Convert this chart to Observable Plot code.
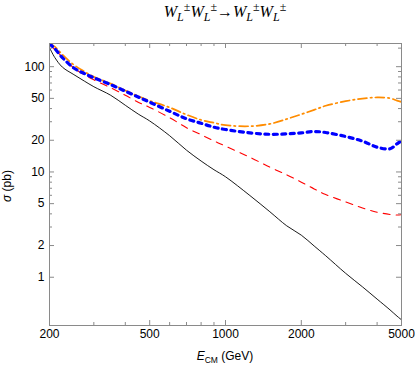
<!DOCTYPE html>
<html><head><meta charset="utf-8">
<script src="https://cdn.jsdelivr.net/npm/d3@7"></script>
<script src="https://cdn.jsdelivr.net/npm/@observablehq/plot@0.6"></script>
<style>
body{margin:0;background:#fff;}
#title{height:30px;width:415px;box-sizing:border-box;padding-left:35px;text-align:center;font-family:"Liberation Serif","Times New Roman",serif;font-size:16px;line-height:24px;color:#000;white-space:nowrap;}
#title i{font-style:italic;}
#title sub,#title sup{font-size:0.75em;line-height:0;}
#title sub{font-style:italic;}
</style></head><body>
<div id="title"><i>W</i><sub>L</sub><sup>±</sup><i>W</i><sub>L</sub><sup>±</sup>→<i>W</i><sub>L</sub><sup>±</sup><i>W</i><sub>L</sub><sup>±</sup></div>
<div id="chart"></div>
<script>
// Centre-of-mass energies (GeV)
const energy = [200,210,225,250,275,300,350,400,450,500,600,700,800,900,1000,1250,1500,1750,2000,2250,2500,3000,3500,4000,4500,4800,5000];
// Cross sections (pb)
const sigmaSolid  = [152,122,99,84,73,64.5,53.5,43,35.5,30.5,22.1,16.1,12.7,10.5,9.0,5.97,4.19,3.08,2.51,1.98,1.6,1.09,0.81,0.62,0.49,0.427,0.394];
const sigmaDashed = [165,145,124,97,84,75,63,53.5,46,41,32.8,26.3,22.6,19.7,17.6,13.8,11.1,9.4,8.0,6.9,6.1,5.2,4.55,4.15,3.95,3.9,3.92];
const sigmaDotDash = [165,155,130,104,90,80,69,59.5,52.5,47.5,41,35,31.2,29.3,27.8,27.2,28.6,31.8,35.3,38.9,42.5,47,49.8,51,50.2,47.6,46.3];
const sigmaDotted = [165,148,122,97,86,78.5,67.5,58.5,51.5,46,37.7,32,29,26.6,25.3,23.5,22.8,23,23.5,24.2,23.7,21.7,19.6,17.2,16.6,18.5,19.8];
// Axis ticks
const xMajor = [200,500,1000,2000,5000];
const xMinor = [300,400,600,700,800,900,3000,4000];
const yMajor = [1,2,5,10,20,50,100];
const yMinor = [3,4,6,7,8,9,30,40,60,70,80,90,150];

const W=415, H=338, mt=13, mb=43, ml=49, mr=14;
const fh = H-mt-mb, fw = W-ml-mr;
const rows = ys => energy.map((e,i)=>({e, s: ys[i]}));
const gray = "#8a8a8a";

const chart = Plot.plot({
  width: W, height: H, marginTop: mt, marginBottom: mb, marginLeft: ml, marginRight: mr,
  style: {fontFamily: '"Liberation Sans", Arial, sans-serif', fontSize: "12px", background: "#fff", color: "#000"},
  x: {type: "log", domain: [200,5000], axis: null},
  y: {type: "log", domain: [0.348,166], axis: null},
  marks: [
    Plot.line(rows(sigmaSolid), {x:"e", y:"s", stroke:"#000", strokeWidth:0.9, curve:"catmull-rom", clip:true}),
    Plot.line(rows(sigmaDashed), {x:"e", y:"s", stroke:"#ff0000", strokeWidth:1.1, strokeDasharray:"7,6", curve:"catmull-rom", clip:true}),
    Plot.line(rows(sigmaDotDash), {x:"e", y:"s", stroke:"#ff8c00", strokeWidth:1.7, strokeDasharray:"9,3.5,1.5,3.5", curve:"catmull-rom", clip:true}),
    Plot.line(rows(sigmaDotted), {x:"e", y:"s", stroke:"#0000ff", strokeWidth:3.2, strokeDasharray:"4,4.5", curve:"catmull-rom", clip:true}),
    Plot.frame({stroke: gray}),
    Plot.tickX(xMajor, {x: d=>d, stroke: gray, insetTop: fh-5}),
    Plot.tickX(xMajor, {x: d=>d, stroke: gray, insetBottom: fh-5}),
    Plot.tickX(xMinor, {x: d=>d, stroke: gray, insetTop: fh-3}),
    Plot.tickX(xMinor, {x: d=>d, stroke: gray, insetBottom: fh-3}),
    Plot.tickY(yMajor, {y: d=>d, stroke: gray, insetRight: fw-5}),
    Plot.tickY(yMajor, {y: d=>d, stroke: gray, insetLeft: fw-5}),
    Plot.tickY(yMinor, {y: d=>d, stroke: gray, insetRight: fw-3}),
    Plot.tickY(yMinor, {y: d=>d, stroke: gray, insetLeft: fw-3}),
    Plot.text(xMajor, {x: d=>d, frameAnchor: "bottom", dy: 12, text: d=>String(d), fill: "#000"}),
    Plot.text(yMajor, {y: d=>d, frameAnchor: "left", textAnchor: "end", dx: -5, text: d=>String(d), fill: "#000"})
  ]
});
document.getElementById("chart").appendChild(chart);

const svg = d3.select(chart);
const xl = svg.append("text")
  .attr("x", ml + fw/2).attr("y", 330)
  .attr("text-anchor", "middle")
  .attr("font-family", '"Liberation Sans", Arial, sans-serif')
  .attr("font-size", 12).attr("fill", "#000");
xl.append("tspan").attr("font-style", "italic").text("E");
xl.append("tspan").attr("font-size", 8.5).attr("dy", 2.5).text("CM");
xl.append("tspan").attr("dy", -2.5).text(" (GeV)");

const yl = svg.append("text")
  .attr("transform", `translate(11,${mt + fh/2 + 2}) rotate(-90)`)
  .attr("text-anchor", "middle")
  .attr("font-family", '"Liberation Sans", Arial, sans-serif')
  .attr("font-size", 12).attr("fill", "#000");
yl.append("tspan").attr("font-style", "italic").text("σ");
yl.append("tspan").text(" (pb)");
</script>
</body></html>
